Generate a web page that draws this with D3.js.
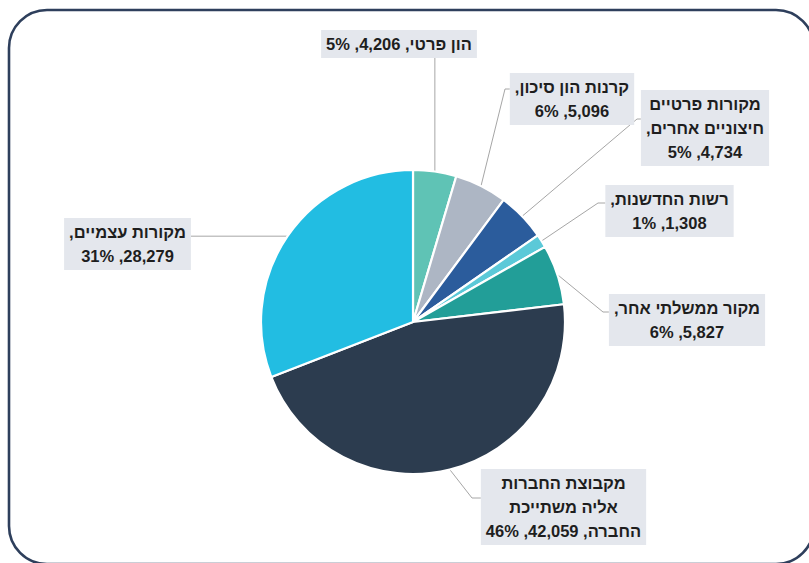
<!DOCTYPE html>
<html lang="he">
<head>
<meta charset="utf-8">
<script src="https://cdn.jsdelivr.net/npm/d3@7"></script>
<style>
  html, body { margin: 0; padding: 0; background: #ffffff; }
  svg { display: block; }
</style>
</head>
<body>
<svg id="chart" width="809" height="563"></svg>
<script>
// Funding sources (clockwise from 12 o'clock)
const categories = [
  "הון פרטי",
  "קרנות הון סיכון",
  "מקורות פרטיים חיצוניים אחרים",
  "רשות החדשנות",
  "מקור ממשלתי אחר",
  "מקבוצת החברות אליה משתייכת החברה",
  "מקורות עצמיים"
];
const values = [4206, 5096, 4734, 1308, 5827, 42059, 28279];
const percentLabels = ["5%", "6%", "5%", "1%", "6%", "46%", "31%"];

// Category name as wrapped in each callout box; the value text is
// appended to the last name line or placed on a line of its own
const nameLines = [
  ["הון פרטי"],
  ["קרנות הון סיכון"],
  ["מקורות פרטיים", "חיצוניים אחרים"],
  ["רשות החדשנות"],
  ["מקור ממשלתי אחר"],
  ["מקבוצת החברות", "אליה משתייכת", "החברה"],
  ["מקורות עצמיים"]
];
const valueOnOwnLine = [false, true, true, true, true, false, true];

const colors = ["#5fc3b5", "#adb6c4", "#2b5c9c", "#5bc9d8", "#229e98", "#2c3c4f", "#22bde2"];

// Callout layout: box centre x, box top y, elbow point of the leader, side the leader attaches to
const callouts = [
  { cx: 399,   top: 30,  elbow: null,       side: "bottom" },
  { cx: 572,   top: 73,  elbow: [505, 89],  side: "left" },
  { cx: 705,   top: 90,  elbow: [637, 119], side: "left" },
  { cx: 669.5, top: 185, elbow: [598, 203], side: "left" },
  { cx: 687,   top: 294, elbow: [603, 312], side: "left" },
  { cx: 563.5, top: 469, elbow: [472, 498], side: "left" },
  { cx: 127.5, top: 218, elbow: null,       side: "right" }
];

const fmt = d3.format(",");

function calloutLines(i) {
  const valueText = `${fmt(values[i])}, ${percentLabels[i]}`;
  const names = nameLines[i].slice();
  const last = names.length - 1;
  if (valueOnOwnLine[i]) {
    names[last] = names[last] + ",";
    return names.concat([valueText]);
  }
  names[last] = `${names[last]}, ${valueText}`;
  return names;
}

const svg = d3.select("#chart");

// Rounded frame
svg.append("rect")
  .attr("x", 9).attr("y", 10)
  .attr("width", 805).attr("height", 554)
  .attr("rx", 38).attr("ry", 38)
  .attr("fill", "#ffffff")
  .attr("stroke", "#2e3f5c")
  .attr("stroke-width", 2.6);

const cx = 413, cy = 322, R = 152;

const pie = d3.pie().sort(null).value(d => d)(values);
const arc = d3.arc().innerRadius(0).outerRadius(R);

// Leader lines sit under the slices
const leaders = svg.append("g");

const g = svg.append("g").attr("transform", `translate(${cx},${cy})`);

g.selectAll("path.slice")
  .data(pie)
  .join("path")
  .attr("class", "slice")
  .attr("d", arc)
  .attr("fill", (d, i) => colors[i])
  .attr("stroke", "#ffffff")
  .attr("stroke-width", 2.2)
  .attr("stroke-linejoin", "round")
  .append("title")
  .text((d, i) => `${categories[i]}: ${fmt(values[i])}`);

const fontFamily = "'Liberation Sans', Arial, sans-serif";
const fontSize = 16.5;
const lineH = 24;
const padX = 5, padY = 2;

const labels = svg.append("g");

pie.forEach((d, i) => {
  const c = callouts[i];
  const lines = calloutLines(i);
  const grp = labels.append("g");
  const rect = grp.append("rect").attr("fill", "#e4e7ed");
  const txt = grp.append("text")
    .attr("direction", "rtl")
    .attr("text-anchor", "middle")
    .attr("font-family", fontFamily)
    .attr("font-size", fontSize)
    .attr("font-weight", "bold")
    .attr("fill", "#1e1e1e");
  lines.forEach((ln, k) => {
    txt.append("tspan")
      .attr("x", c.cx)
      .attr("y", c.top + padY + lineH * k + lineH / 2)
      .attr("dy", "0.36em")
      .text(ln);
  });
  let maxW = 0;
  txt.selectAll("tspan").each(function () {
    maxW = Math.max(maxW, this.getComputedTextLength());
  });
  const bw = maxW + padX * 2;
  const bh = lines.length * lineH + padY * 2;
  const bx = c.cx - bw / 2;
  rect.attr("x", bx).attr("y", c.top).attr("width", bw).attr("height", bh);

  // Leader from the slice edge (mid angle) to the box
  const a = (d.startAngle + d.endAngle) / 2;
  const p0 = [cx + R * Math.sin(a), cy - R * Math.cos(a)];
  let pts;
  if (c.side === "bottom") {
    pts = [p0, [p0[0], c.top + bh]];
  } else if (c.side === "right") {
    pts = [p0, [bx + bw, p0[1]]];
  } else {
    pts = [p0, c.elbow, [bx, c.elbow[1]]];
  }
  leaders.append("path")
    .attr("d", d3.line()(pts))
    .attr("fill", "none")
    .attr("stroke", "#a6a6a6")
    .attr("stroke-width", 1);
});
</script>
</body>
</html>
